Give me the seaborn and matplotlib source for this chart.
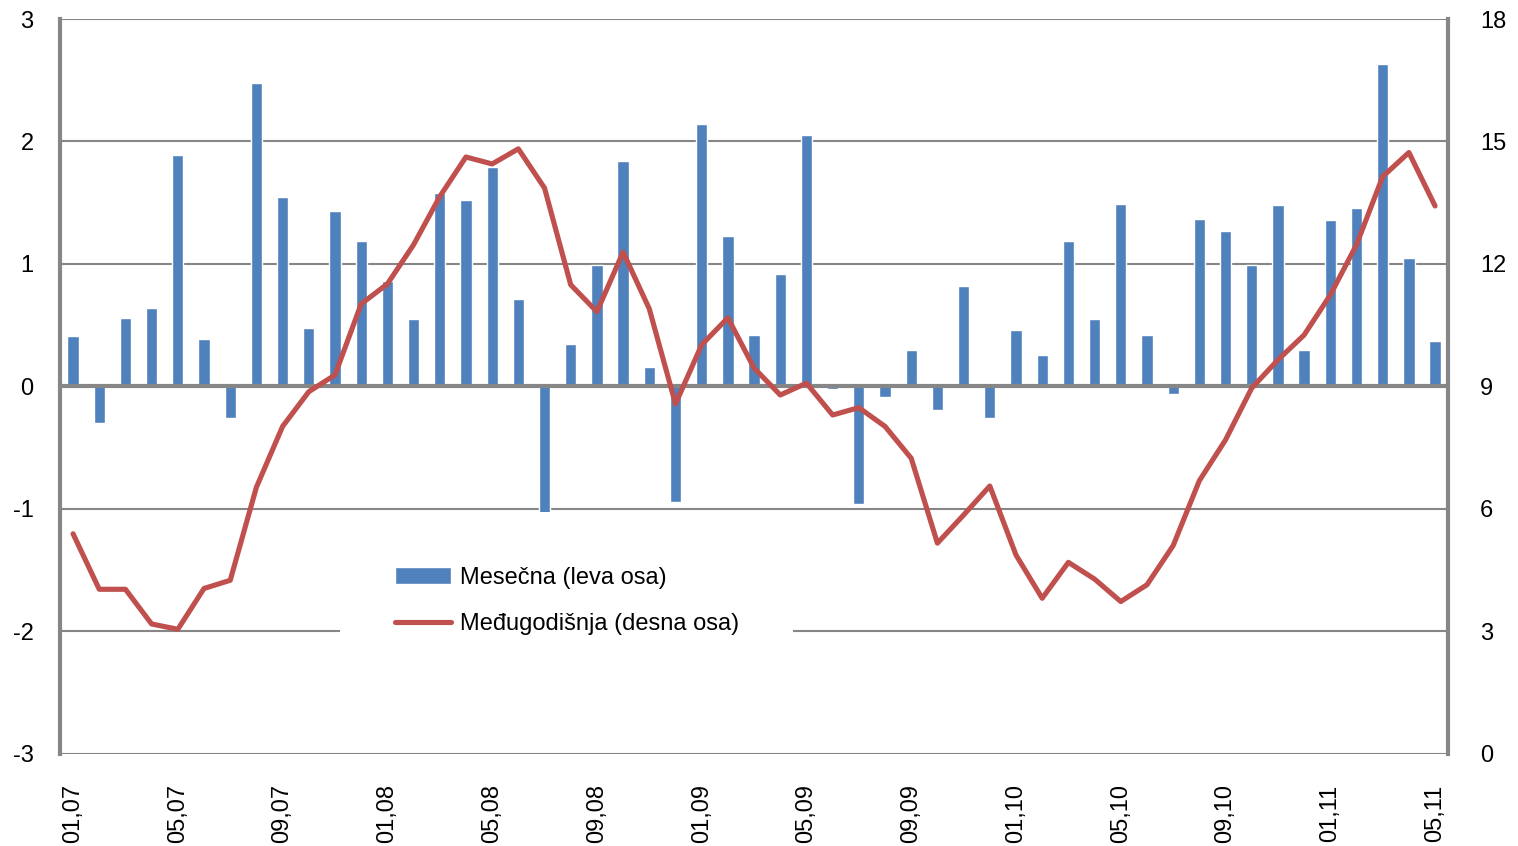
import numpy as np
import pandas as pd
import matplotlib
matplotlib.use("Agg")
import matplotlib.pyplot as plt
import seaborn as sns

# mesec,godina
months = ["01,07", "02,07", "03,07", "04,07", "05,07", "06,07", "07,07", "08,07", "09,07", "10,07", "11,07", "12,07",
          "01,08", "02,08", "03,08", "04,08", "05,08", "06,08", "07,08", "08,08", "09,08", "10,08", "11,08", "12,08",
          "01,09", "02,09", "03,09", "04,09", "05,09", "06,09", "07,09", "08,09", "09,09", "10,09", "11,09", "12,09",
          "01,10", "02,10", "03,10", "04,10", "05,10", "06,10", "07,10", "08,10", "09,10", "10,10", "11,10", "12,10",
          "01,11", "02,11", "03,11", "04,11", "05,11"]

# mesecna inflacija (leva osa)
monthly = [0.41, -0.30, 0.56, 0.64, 1.89, 0.39, -0.26, 2.48, 1.55, 0.48, 1.43, 1.19,
           0.86, 0.55, 1.58, 1.52, 1.79, 0.71, -1.12, 0.35, 0.99, 1.84, 0.16, -0.94,
           2.14, 1.23, 0.42, 0.92, 2.05, -0.02, -0.96, -0.09, 0.30, -0.19, 0.82, -0.26,
           0.46, 0.26, 1.19, 0.55, 1.49, 0.42, -0.06, 1.37, 1.27, 0.99, 1.48, 0.30,
           1.36, 1.46, 2.63, 1.05, 0.37]

# medjugodisnja inflacija (desna osa)
yearly = [5.39, 4.03, 4.03, 3.18, 3.05, 4.05, 4.25, 6.53, 8.02, 8.87, 9.28, 11.02,
          11.51, 12.47, 13.65, 14.62, 14.45, 14.82, 13.86, 11.49, 10.83, 12.29, 10.90, 8.57,
          10.02, 10.68, 9.45, 8.79, 9.08, 8.30, 8.48, 8.02, 7.24, 5.16, 5.85, 6.56,
          4.87, 3.81, 4.69, 4.28, 3.73, 4.14, 5.10, 6.69, 7.69, 8.96, 9.65, 10.26,
          11.24, 12.47, 14.14, 14.73, 13.42]

df = pd.DataFrame({"mesec": months, "mesecna": monthly, "medjugodisnja": yearly})
df["pos"] = np.arange(len(df))

sns.set_theme(style="white")
plt.rcParams['font.family'] = ['Liberation Sans', 'DejaVu Sans']
plt.rcParams['axes.unicode_minus'] = False
plt.rcParams['text.color'] = 'black'

grey = "#868686"
fig = plt.figure(figsize=(15.18, 8.46), dpi=100)
ax = fig.add_axes([0.0395, 0.109, 0.9145, 0.8685])

sns.barplot(data=df, x="mesec", y="mesecna", color="#4F81BD", saturation=1,
            width=0.43, ax=ax, label="Mesečna (leva osa)")
ax.set_ylim(-3, 3)
ax.set_yticks(range(-3, 4))
ax.grid(axis="y", color=grey, lw=1.5)
ax.set_axisbelow(True)
ax.axhline(0, color=grey, lw=3, zorder=3)

ax2 = ax.twinx()
sns.lineplot(data=df, x="pos", y="medjugodisnja", color="#C0504D", lw=3.7, ax=ax2,
             label="Međugodišnja (desna osa)")
ax2.set_ylim(0, 18)
ax2.set_yticks(range(0, 19, 3))
ax.set_xlim(-0.5, len(df) - 0.5)

ax.set_xticks(df["pos"][::4])
ax.set_xticklabels(df["mesec"][::4], rotation=90)
ax.set_xlabel("")
ax.set_ylabel("")
ax2.set_xlabel("")
ax2.set_ylabel("")

for a in (ax, ax2):
    for s in a.spines.values():
        s.set_visible(False)
ax.spines["left"].set_visible(True)
ax.spines["left"].set_color(grey)
ax.spines["left"].set_linewidth(3)
ax2.spines["right"].set_visible(True)
ax2.spines["right"].set_color(grey)
ax2.spines["right"].set_linewidth(3)

ax.tick_params(axis="y", length=0, pad=19, labelsize=17, labelcolor="black")
ax.tick_params(axis="x", length=0, pad=22, labelsize=17, labelcolor="black")
ax2.tick_params(axis="y", length=0, pad=23, labelsize=17, labelcolor="black")

h1, l1 = ax.get_legend_handles_labels()
h2, l2 = ax2.get_legend_handles_labels()
if ax.get_legend():
    ax.get_legend().remove()
leg = ax2.legend(h1 + h2, l1 + l2, loc="center", bbox_to_anchor=(0.365, 0.208),
                 fontsize=17, frameon=True, facecolor="white", edgecolor="none",
                 fancybox=False, framealpha=1, borderpad=2.3, handlelength=2.4,
                 handletextpad=0.35, labelspacing=1.05)
for t in leg.get_texts():
    t.set_color("black")

fig.savefig("out.png", dpi=100)
